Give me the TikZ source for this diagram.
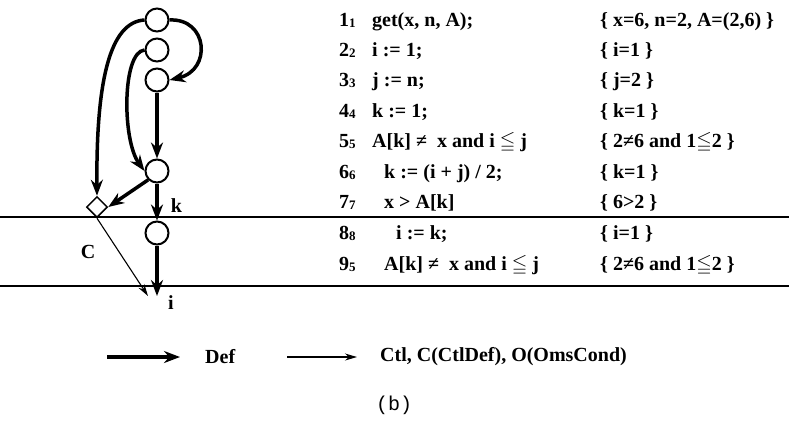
\documentclass[tikz,border=0pt]{standalone}
\usepackage{amssymb}
\usepackage{fontspec}
\setmainfont{Liberation Serif}
\setmonofont{Liberation Mono}
\usetikzlibrary{arrows.meta,shapes.geometric}
\tikzset{
  vtx/.style={circle,draw,line width=2pt,minimum size=23pt,inner sep=0pt},
  dmd/.style={diamond,draw,line width=1.5pt,minimum size=21pt,inner sep=0pt},
  defarrow/.style={line width=3.5pt,-{Stealth[length=16pt,width=12pt]}},
  ctlarrow/.style={line width=1.1pt,-{Stealth[length=12pt,width=7pt]}},
  sep/.style={line width=1.1pt},
  txt/.style={anchor=base west,inner sep=0pt,font=\fontsize{20}{24}\selectfont\bfseries},
  lbl/.style={inner sep=0pt,font=\fontsize{20}{24}\selectfont\bfseries},
}
\newcommand{\lno}[2]{#1{\fontsize{13}{14}\selectfont\raisebox{-1pt}{#2}}}
\begin{document}
\begin{tikzpicture}[x=1pt,y=-1pt]
\useasboundingbox (0,0) rectangle (789,432);
% separators
\draw[sep] (0,217) coordinate (l1a) -- (789,217) coordinate (l1b);
\draw[sep] (0,286) coordinate (l2a) -- (789,286) coordinate (l2b);
% vertices
\node[vtx] (n1) at (157,20) {};
\node[vtx] (n2) at (157,50) {};
\node[vtx] (n3) at (157,80) {};
\node[vtx] (n5) at (157,171) {};
\node[vtx] (n8) at (157,233) {};
\node[dmd] (d) at (97,207) {};
\coordinate (iend) at (157,296);
\coordinate (cend) at (148,296);
% edges
\draw[defarrow] (n1.west) .. controls (110,22) and (96,80) .. (d.north);
\draw[defarrow] (n1.east) .. controls (208,18) and (212,70) .. (n3.east);
\draw[defarrow] (n2.west) .. controls (122,52) and (122,140) .. (n5.west);
\draw[defarrow] (n3.south) -- (n5.north);
\draw[defarrow] (n5.south west) -- (d.east);
\draw[defarrow] (n5.south) -- node[lbl,right=12pt,pos=0.6] (lk) {k} (n8.north);
\draw[defarrow] (n8.south) -- (iend);
\draw[ctlarrow] (d.south) -- (cend);
\node[lbl] (lc) at (88,252) {C};
\node[lbl] (li) at (171,303) {i};
% table
\foreach \y/\n/\s/\xc/\code/\cond in {
  20/1/1/372/{get(x, n, A);}/{\{ x=6, n=2, A=(2,6) \}},
  50/2/2/372/{i := 1;}/{\{ i=1 \}},
  80/3/3/372/{j := n;}/{\{ j=2 \}},
  111/4/4/372/{k := 1;}/{\{ k=1 \}},
  141/5/5/372/{A[k] ≠ \ x and i $\leqq$ j}/{\{ 2≠6 and 1$\leqq$2 \}},
  172/6/6/384/{k := (i + j) / 2;}/{\{ k=1 \}},
  202/7/7/384/{x > A[k]}/{\{ 6>2 \}},
  233/8/8/396/{i := k;}/{\{ i=1 \}},
  264/9/5/384/{A[k] ≠ \ x and i $\leqq$ j}/{\{ 2≠6 and 1$\leqq$2 \}}
}{
  \node[txt] (no\n) at (339,\y+6) {\lno{\n}{\s}};
  \node[txt] (co\n) at (\xc,\y+6) {\code};
  \node[txt] (cd\n) at (600,\y+6) {\cond};
}
% legend
\node[txt,anchor=west] (ldef) at (205,357) {Def};
\node[txt,anchor=west] (lctl) at (380,357) {Ctl, C(CtlDef), O(OmsCond)};
\coordinate (la1) at (107,357);
\coordinate (la2) at (180,357);
\coordinate (lb1) at (287,357);
\coordinate (lb2) at (357,357);
\draw[defarrow] (la1) -- (la2);
\draw[ctlarrow] (lb1) -- (lb2);
\node[font=\ttfamily\fontsize{20}{24}\selectfont] (cap) at (394,405) {(b)};
\end{tikzpicture}
\end{document}
